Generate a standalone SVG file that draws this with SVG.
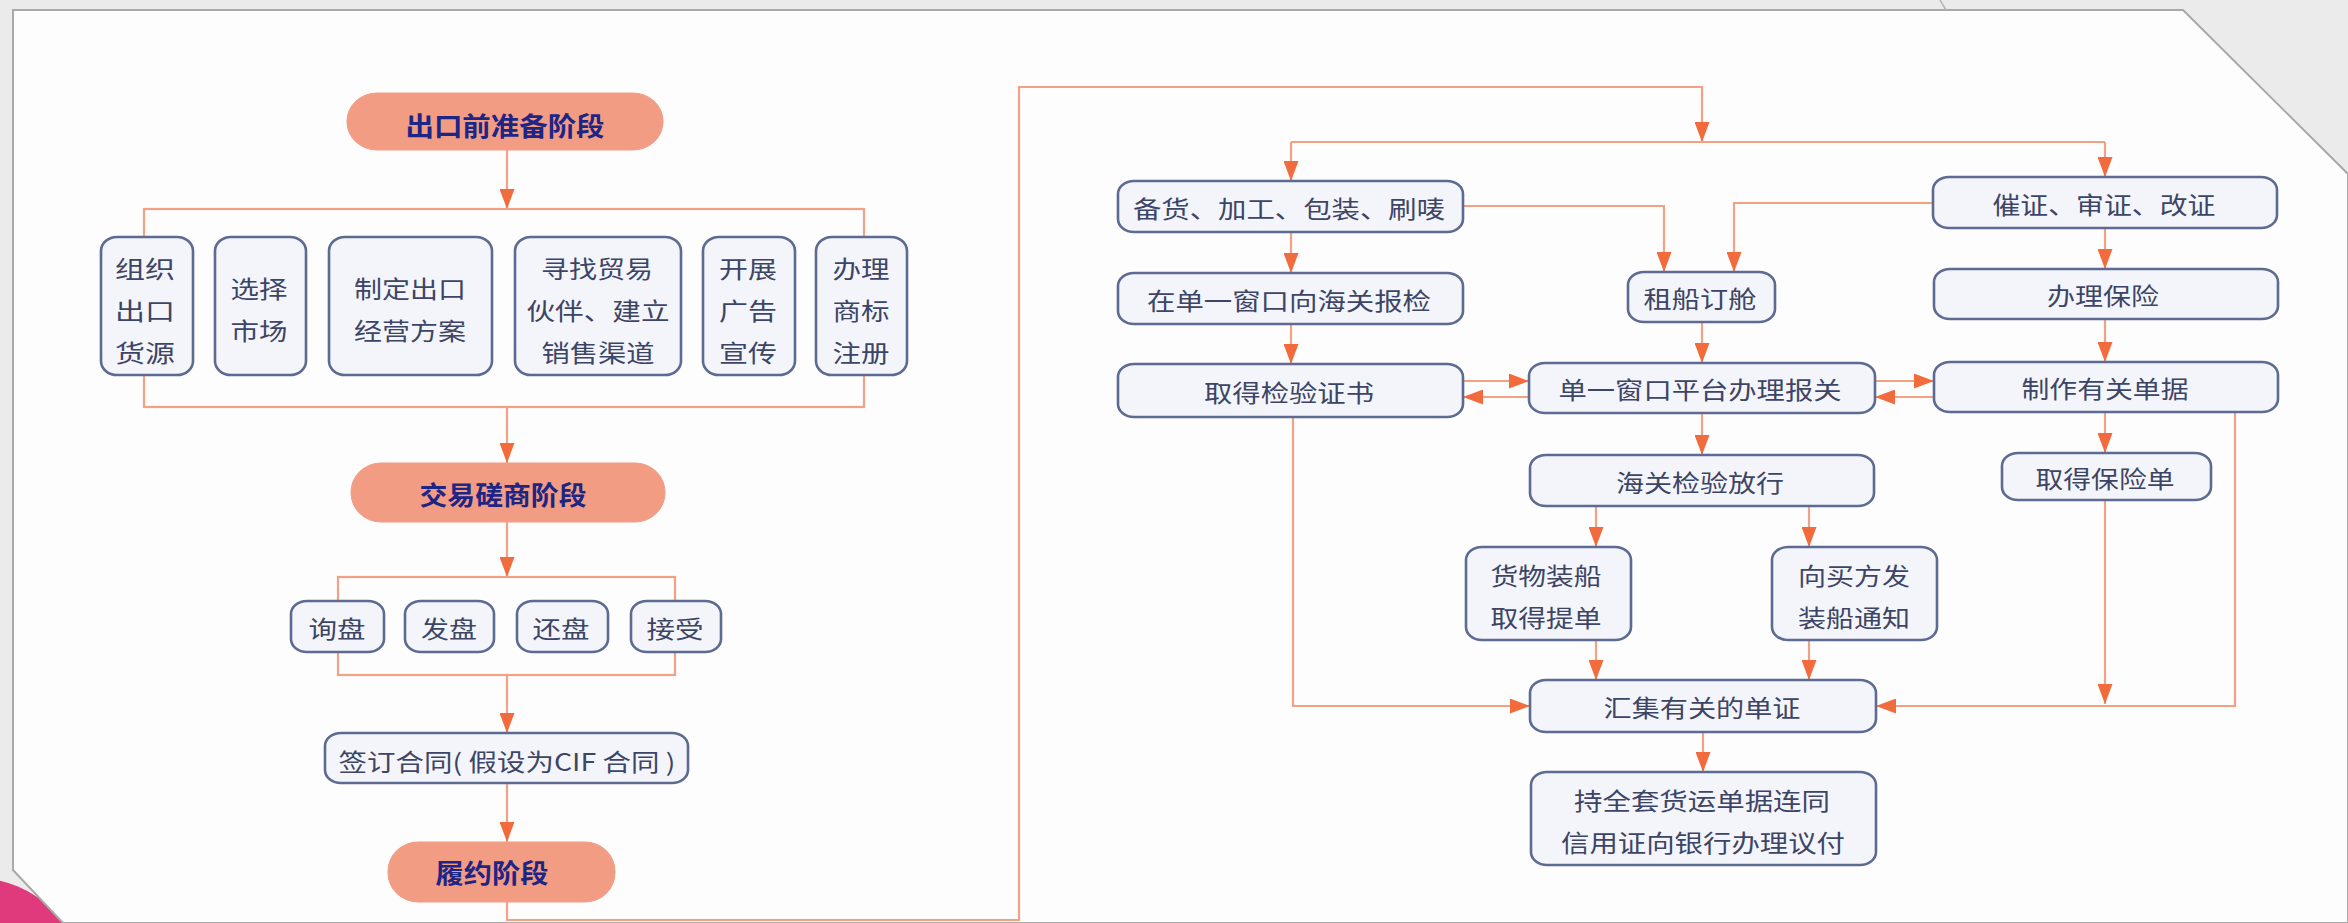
<svg xmlns="http://www.w3.org/2000/svg" width="2348" height="923" viewBox="0 0 2348 923">
<style>
.ln{fill:none;stroke:#f2a283;stroke-width:2.2}
.bx{fill:#f4f5fa;stroke:#5d6a92;stroke-width:2.6}
.pl{fill:#f29c84;stroke:#f29c84;stroke-width:1}
.t{font-family:"Noto Sans CJK SC","Noto Sans",sans-serif;font-size:24px;fill:#3d4566;text-anchor:middle;dominant-baseline:central}
.pt{font-family:"Noto Sans CJK SC","Noto Sans",sans-serif;font-size:26px;font-weight:700;fill:#1d2585;text-anchor:middle;dominant-baseline:central}
</style>
<defs>
<marker id="ah" markerUnits="userSpaceOnUse" markerWidth="20" markerHeight="15" refX="20" refY="7.5" orient="auto">
<path d="M0,0 L20,7.5 L0,15 Z" fill="#f26b3c"/>
</marker>
</defs>
<rect x="0" y="0" width="2348" height="923" fill="#ebebeb"/>
<circle cx="-25" cy="990" r="112" fill="#e03a7c"/>
<polygon points="13,10 2183,10 2348,174 2348,923 63,923 13,870" fill="#fdfdfe" stroke="#a9a9a9" stroke-width="2"/>
<line x1="1940" y1="0" x2="1946" y2="10" stroke="#b5b5b5" stroke-width="1.5"/>
<g id="connectors">
<path class="ln" d="M507,150 V209" marker-end="url(#ah)"/>
<rect class="ln" x="144" y="209" width="720" height="198"/>
<path class="ln" d="M507,407 V463" marker-end="url(#ah)"/>
<path class="ln" d="M507,522 V577" marker-end="url(#ah)"/>
<rect class="ln" x="338" y="577" width="337" height="98"/>
<path class="ln" d="M507,675 V733" marker-end="url(#ah)"/>
<path class="ln" d="M507,783 V842" marker-end="url(#ah)"/>
<path class="ln" d="M507,902 V920 H1019 V87 H1702 V142" marker-end="url(#ah)"/>
<path class="ln" d="M1291,142 H2105"/>
<path class="ln" d="M1291,142 V181" marker-end="url(#ah)"/>
<path class="ln" d="M2105,142 V177" marker-end="url(#ah)"/>
<path class="ln" d="M1291,232 V273" marker-end="url(#ah)"/>
<path class="ln" d="M1291,324 V364" marker-end="url(#ah)"/>
<path class="ln" d="M1463,206 H1664 V272" marker-end="url(#ah)"/>
<path class="ln" d="M1933,203 H1734 V272" marker-end="url(#ah)"/>
<path class="ln" d="M1702,322 V363" marker-end="url(#ah)"/>
<path class="ln" d="M1463,381 H1529" marker-end="url(#ah)"/>
<path class="ln" d="M1529,397 H1463" marker-end="url(#ah)"/>
<path class="ln" d="M1875,381 H1934" marker-end="url(#ah)"/>
<path class="ln" d="M1934,397 H1875" marker-end="url(#ah)"/>
<path class="ln" d="M2105,228 V269" marker-end="url(#ah)"/>
<path class="ln" d="M2105,319 V362" marker-end="url(#ah)"/>
<path class="ln" d="M2105,412 V453" marker-end="url(#ah)"/>
<path class="ln" d="M1702,413 V455" marker-end="url(#ah)"/>
<path class="ln" d="M1596,506 V547" marker-end="url(#ah)"/>
<path class="ln" d="M1809,506 V547" marker-end="url(#ah)"/>
<path class="ln" d="M1596,640 V680" marker-end="url(#ah)"/>
<path class="ln" d="M1809,640 V680" marker-end="url(#ah)"/>
<path class="ln" d="M1293,417 V706 H1530" marker-end="url(#ah)"/>
<path class="ln" d="M2105,500 V704" marker-end="url(#ah)"/>
<path class="ln" d="M2235,412 V706 H1876" marker-end="url(#ah)"/>
<path class="ln" d="M1703,732 V772" marker-end="url(#ah)"/>
</g>
<g id="pill-prep">
<rect class="pl" x="347" y="93" width="316" height="57" rx="30" ry="28"/>
<text class="pt" x="505" y="124" textLength="199" lengthAdjust="spacingAndGlyphs">出口前准备阶段</text>
</g>
<g id="n-zuzhi">
<rect class="bx" x="101" y="237" width="92" height="138" rx="16" ry="14"/>
<text class="t" x="145" y="267" textLength="60" lengthAdjust="spacingAndGlyphs">组织</text>
<text class="t" x="145" y="309" textLength="60" lengthAdjust="spacingAndGlyphs">出口</text>
<text class="t" x="145" y="351" textLength="60" lengthAdjust="spacingAndGlyphs">货源</text>
</g>
<g id="n-xuanze">
<rect class="bx" x="215" y="237" width="91" height="138" rx="16" ry="14"/>
<text class="t" x="259" y="287" textLength="57" lengthAdjust="spacingAndGlyphs">选择</text>
<text class="t" x="259" y="329" textLength="57" lengthAdjust="spacingAndGlyphs">市场</text>
</g>
<g id="n-zhiding">
<rect class="bx" x="329" y="237" width="163" height="138" rx="16" ry="14"/>
<text class="t" x="410" y="287" textLength="112" lengthAdjust="spacingAndGlyphs">制定出口</text>
<text class="t" x="410" y="329" textLength="112" lengthAdjust="spacingAndGlyphs">经营方案</text>
</g>
<g id="n-xunzhao">
<rect class="bx" x="515" y="237" width="166" height="138" rx="16" ry="14"/>
<text class="t" x="597" y="267" textLength="112" lengthAdjust="spacingAndGlyphs">寻找贸易</text>
<text class="t" x="598" y="309" textLength="143" lengthAdjust="spacingAndGlyphs">伙伴、建立</text>
<text class="t" x="598" y="351" textLength="113" lengthAdjust="spacingAndGlyphs">销售渠道</text>
</g>
<g id="n-kaizhan">
<rect class="bx" x="703" y="237" width="92" height="138" rx="16" ry="14"/>
<text class="t" x="748" y="267" textLength="58" lengthAdjust="spacingAndGlyphs">开展</text>
<text class="t" x="748" y="309" textLength="58" lengthAdjust="spacingAndGlyphs">广告</text>
<text class="t" x="748" y="351" textLength="58" lengthAdjust="spacingAndGlyphs">宣传</text>
</g>
<g id="n-banli">
<rect class="bx" x="816" y="237" width="91" height="138" rx="16" ry="14"/>
<text class="t" x="861" y="267" textLength="57" lengthAdjust="spacingAndGlyphs">办理</text>
<text class="t" x="861" y="309" textLength="57" lengthAdjust="spacingAndGlyphs">商标</text>
<text class="t" x="861" y="351" textLength="57" lengthAdjust="spacingAndGlyphs">注册</text>
</g>
<g id="pill-nego">
<rect class="pl" x="351" y="463" width="314" height="59" rx="30" ry="29"/>
<text class="pt" x="503" y="493" textLength="167" lengthAdjust="spacingAndGlyphs">交易磋商阶段</text>
</g>
<g id="n-xunpan">
<rect class="bx" x="291" y="601" width="93" height="51" rx="16" ry="13"/>
<text class="t" x="337" y="627" textLength="57" lengthAdjust="spacingAndGlyphs">询盘</text>
</g>
<g id="n-fapan">
<rect class="bx" x="405" y="601" width="89" height="51" rx="16" ry="13"/>
<text class="t" x="449" y="627" textLength="56" lengthAdjust="spacingAndGlyphs">发盘</text>
</g>
<g id="n-huanpan">
<rect class="bx" x="517" y="601" width="91" height="51" rx="16" ry="13"/>
<text class="t" x="561" y="627" textLength="57" lengthAdjust="spacingAndGlyphs">还盘</text>
</g>
<g id="n-jieshou">
<rect class="bx" x="631" y="601" width="90" height="51" rx="16" ry="13"/>
<text class="t" x="675" y="627" textLength="57" lengthAdjust="spacingAndGlyphs">接受</text>
</g>
<g id="n-qianding">
<rect class="bx" x="325" y="733" width="363" height="50" rx="16" ry="13"/>
<text class="t" x="507" y="760" textLength="337" lengthAdjust="spacingAndGlyphs">签订合同( 假设为CIF 合同 )</text>
</g>
<g id="pill-perform">
<rect class="pl" x="388" y="842" width="227" height="60" rx="30" ry="29"/>
<text class="pt" x="492" y="871" textLength="113" lengthAdjust="spacingAndGlyphs">履约阶段</text>
</g>
<g id="n-beihuo">
<rect class="bx" x="1118" y="181" width="345" height="51" rx="16" ry="13"/>
<text class="t" x="1289" y="207" textLength="312" lengthAdjust="spacingAndGlyphs">备货、加工、包装、刷唛</text>
</g>
<g id="n-baojian">
<rect class="bx" x="1118" y="273" width="345" height="51" rx="16" ry="13"/>
<text class="t" x="1289" y="299" textLength="284" lengthAdjust="spacingAndGlyphs">在单一窗口向海关报检</text>
</g>
<g id="n-jianyanzhengshu">
<rect class="bx" x="1118" y="364" width="345" height="53" rx="16" ry="13"/>
<text class="t" x="1289" y="391" textLength="170" lengthAdjust="spacingAndGlyphs">取得检验证书</text>
</g>
<g id="n-zuchuan">
<rect class="bx" x="1628" y="272" width="147" height="50" rx="16" ry="13"/>
<text class="t" x="1700" y="297" textLength="113" lengthAdjust="spacingAndGlyphs">租船订舱</text>
</g>
<g id="n-baoguan">
<rect class="bx" x="1529" y="363" width="346" height="50" rx="16" ry="13"/>
<text class="t" x="1700" y="388" textLength="283" lengthAdjust="spacingAndGlyphs">单一窗口平台办理报关</text>
</g>
<g id="n-fangxing">
<rect class="bx" x="1530" y="455" width="344" height="51" rx="16" ry="13"/>
<text class="t" x="1700" y="481" textLength="168" lengthAdjust="spacingAndGlyphs">海关检验放行</text>
</g>
<g id="n-cuizheng">
<rect class="bx" x="1933" y="177" width="344" height="51" rx="16" ry="13"/>
<text class="t" x="2104" y="203" textLength="223" lengthAdjust="spacingAndGlyphs">催证、审证、改证</text>
</g>
<g id="n-baoxian">
<rect class="bx" x="1934" y="269" width="344" height="50" rx="16" ry="13"/>
<text class="t" x="2103" y="294" textLength="112" lengthAdjust="spacingAndGlyphs">办理保险</text>
</g>
<g id="n-danju">
<rect class="bx" x="1934" y="362" width="344" height="50" rx="16" ry="13"/>
<text class="t" x="2105" y="387" textLength="167" lengthAdjust="spacingAndGlyphs">制作有关单据</text>
</g>
<g id="n-baoxiandan">
<rect class="bx" x="2002" y="453" width="209" height="47" rx="16" ry="13"/>
<text class="t" x="2105" y="477" textLength="139" lengthAdjust="spacingAndGlyphs">取得保险单</text>
</g>
<g id="n-zhuangchuan">
<rect class="bx" x="1466" y="547" width="165" height="93" rx="16" ry="13"/>
<text class="t" x="1546" y="574" textLength="111" lengthAdjust="spacingAndGlyphs">货物装船</text>
<text class="t" x="1546" y="616" textLength="111" lengthAdjust="spacingAndGlyphs">取得提单</text>
</g>
<g id="n-tongzhi">
<rect class="bx" x="1772" y="547" width="165" height="93" rx="16" ry="13"/>
<text class="t" x="1854" y="574" textLength="112" lengthAdjust="spacingAndGlyphs">向买方发</text>
<text class="t" x="1854" y="616" textLength="112" lengthAdjust="spacingAndGlyphs">装船通知</text>
</g>
<g id="n-huiji">
<rect class="bx" x="1530" y="680" width="346" height="52" rx="16" ry="13"/>
<text class="t" x="1702" y="706" textLength="197" lengthAdjust="spacingAndGlyphs">汇集有关的单证</text>
</g>
<g id="n-yifu">
<rect class="bx" x="1531" y="772" width="345" height="93" rx="16" ry="13"/>
<text class="t" x="1702" y="799" textLength="256" lengthAdjust="spacingAndGlyphs">持全套货运单据连同</text>
<text class="t" x="1703" y="841" textLength="284" lengthAdjust="spacingAndGlyphs">信用证向银行办理议付</text>
</g>
</svg>
